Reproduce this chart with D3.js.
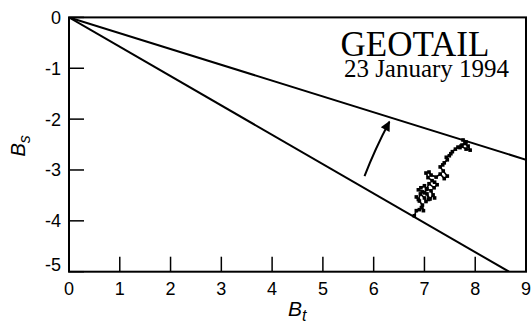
<!DOCTYPE html>
<html>
<head>
<meta charset="utf-8">
<script src="https://cdn.jsdelivr.net/npm/d3@7"></script>
<style>
  body { margin: 0; background: #fff; }
  svg { display: block; }
  .tick-label { font-family: "Liberation Sans", Arial, sans-serif; font-size: 18px; }
</style>
</head>
<body>
<div id="chart"></div>
<script>
// tick values
var xTicks = [0, 1, 2, 3, 4, 5, 6, 7, 8, 9];
var yTicks = [0, -1, -2, -3, -4, -5];

// slopes of the two lines through the origin (Bs / Bt)
var boundarySlopes = [-0.311, -0.577];

// arrow (tail, tip) in data units
var arrowTail = [5.82, -3.12];
var arrowTip = [6.31, -2.05];

// measured Bt, Bs values
var bt = [6.80, 6.84, 6.90, 6.94, 6.98, 6.96, 6.90, 6.84, 6.88, 6.92, 7.00, 7.03, 7.08, 7.05,
  7.11, 7.17, 7.20, 7.13, 7.05, 7.00, 6.96, 6.88, 6.93, 7.00, 7.04, 7.09, 7.19, 7.25,
  7.20, 7.15, 7.07, 7.03, 7.09, 7.13, 7.23, 7.31, 7.39, 7.45, 7.37, 7.31, 7.36, 7.39,
  7.45, 7.43, 7.49, 7.52, 7.55, 7.61, 7.66, 7.70, 7.74, 7.82, 7.76, 7.80, 7.86, 7.90,
  7.82, 7.72];
var bs = [-3.90, -3.80, -3.78, -3.74, -3.80, -3.69, -3.61, -3.53, -3.58, -3.47, -3.55, -3.62, -3.58, -3.47,
  -3.57, -3.49, -3.55, -3.41, -3.37, -3.45, -3.43, -3.39, -3.35, -3.31, -3.38, -3.27, -3.35, -3.29,
  -3.24, -3.21, -3.15, -3.06, -3.04, -3.10, -3.14, -3.08, -3.17, -3.12, -3.02, -2.94, -2.90, -2.86,
  -2.80, -2.75, -2.72, -2.68, -2.64, -2.59, -2.55, -2.56, -2.51, -2.45, -2.41, -2.48, -2.53, -2.61,
  -2.59, -2.53];

var W = 531, H = 324;
var margin = {top: 17.4, right: 5, bottom: 52.3, left: 69},
  width = W - margin.left - margin.right,
  height = H - margin.top - margin.bottom;

var x = d3.scaleLinear().domain([0, 9]).range([0, width]);
var y = d3.scaleLinear().domain([-5, 0]).range([height, 0]);

var svg = d3.select("#chart").append("svg")
  .attr("width", W)
  .attr("height", H)
  .append("g")
  .attr("transform", "translate(" + margin.left + "," + margin.top + ")");

svg.append("defs").append("clipPath").attr("id", "clip")
  .append("rect").attr("width", width).attr("height", height);

svg.select("defs").append("marker")
  .attr("id", "head")
  .attr("viewBox", "0 0 10 10")
  .attr("refX", 9).attr("refY", 5)
  .attr("markerWidth", 15).attr("markerHeight", 10)
  .attr("markerUnits", "userSpaceOnUse")
  .attr("orient", "auto")
  .append("path")
  .attr("d", "M0,0 L10,5 L0,10 Z")
  .attr("fill", "#000");

// boundary lines
var plot = svg.append("g").attr("clip-path", "url(#clip)");
boundarySlopes.forEach(function(s) {
  plot.append("line")
    .attr("x1", x(0)).attr("y1", y(0))
    .attr("x2", x(9)).attr("y2", y(9 * s))
    .attr("stroke", "#000")
    .attr("stroke-width", 2);
});

// data trace
var pts = bt.map(function(d, i) { return [d, bs[i]]; });
plot.append("path")
  .datum(pts)
  .attr("fill", "none")
  .attr("stroke", "#000")
  .attr("stroke-width", 1.6)
  .attr("d", d3.line().x(function(d) { return x(d[0]); }).y(function(d) { return y(d[1]); }));

plot.selectAll(".pt")
  .data(pts)
  .enter().append("rect")
  .attr("class", "pt")
  .attr("x", function(d) { return x(d[0]) - 1.8; })
  .attr("y", function(d) { return y(d[1]) - 1.8; })
  .attr("width", 3.6).attr("height", 3.6)
  .attr("fill", "#000");

// arrow
var ax0 = x(arrowTail[0]), ay0 = y(arrowTail[1]);
var ax1 = x(arrowTip[0]), ay1 = y(arrowTip[1]);
var p = d3.path();
p.moveTo(ax0, ay0);
p.quadraticCurveTo((ax0 + ax1) / 2 - 2, (ay0 + ay1) / 2, ax1, ay1);
svg.append("path")
  .attr("d", p.toString())
  .attr("fill", "none")
  .attr("stroke", "#000")
  .attr("stroke-width", 2)
  .attr("marker-end", "url(#head)");

// frame
svg.append("rect")
  .attr("width", width).attr("height", height)
  .attr("fill", "none")
  .attr("stroke", "#000")
  .attr("stroke-width", 2);

// ticks (inward, bottom and left only)
svg.selectAll(".xt").data(xTicks).enter().append("line")
  .attr("x1", function(d) { return x(d); }).attr("x2", function(d) { return x(d); })
  .attr("y1", height).attr("y2", height - 15)
  .attr("stroke", "#000").attr("stroke-width", 1.5);
svg.selectAll(".yt").data(yTicks).enter().append("line")
  .attr("x1", 0).attr("x2", 15)
  .attr("y1", function(d) { return y(d); }).attr("y2", function(d) { return y(d); })
  .attr("stroke", "#000").attr("stroke-width", 1.5);

// tick labels
svg.selectAll(".xl").data(xTicks).enter().append("text")
  .attr("class", "tick-label")
  .attr("x", function(d) { return x(d); })
  .attr("y", height + 23)
  .attr("text-anchor", "middle")
  .text(function(d) { return d; });
svg.selectAll(".yl").data(yTicks).enter().append("text")
  .attr("class", "tick-label")
  .attr("x", -8)
  .attr("y", function(d) { return y(d) + (d === -5 ? -7 : 0); })
  .attr("dy", "0.36em")
  .attr("text-anchor", "end")
  .text(function(d) { return d; });

// axis titles
var xt = svg.append("text")
  .attr("x", 219)
  .attr("y", height + 44)
  .style("font-family", "Liberation Sans, Arial, sans-serif")
  .style("font-size", "21px")
  .style("font-style", "italic");
xt.append("tspan").text("B");
xt.append("tspan").attr("dy", 5).style("font-size", "16px").text("t");

var yt = svg.append("text")
  .attr("transform", "translate(-44," + (height / 2 + 12) + ") rotate(-90)")
  .style("font-family", "Liberation Sans, Arial, sans-serif")
  .style("font-size", "20px")
  .style("font-style", "italic");
yt.append("tspan").text("B");
yt.append("tspan").attr("dy", 5).style("font-size", "16px").text("s");

// title
svg.append("text")
  .attr("x", 346)
  .attr("y", 39)
  .attr("text-anchor", "middle")
  .style("font-family", "Liberation Serif, Times New Roman, serif")
  .style("font-size", "35px")
  .text("GEOTAIL");
svg.append("text")
  .attr("x", 357.5)
  .attr("y", 60)
  .attr("text-anchor", "middle")
  .style("font-family", "Liberation Serif, Times New Roman, serif")
  .style("font-size", "25px")
  .text("23 January 1994");
</script>
</body>
</html>
